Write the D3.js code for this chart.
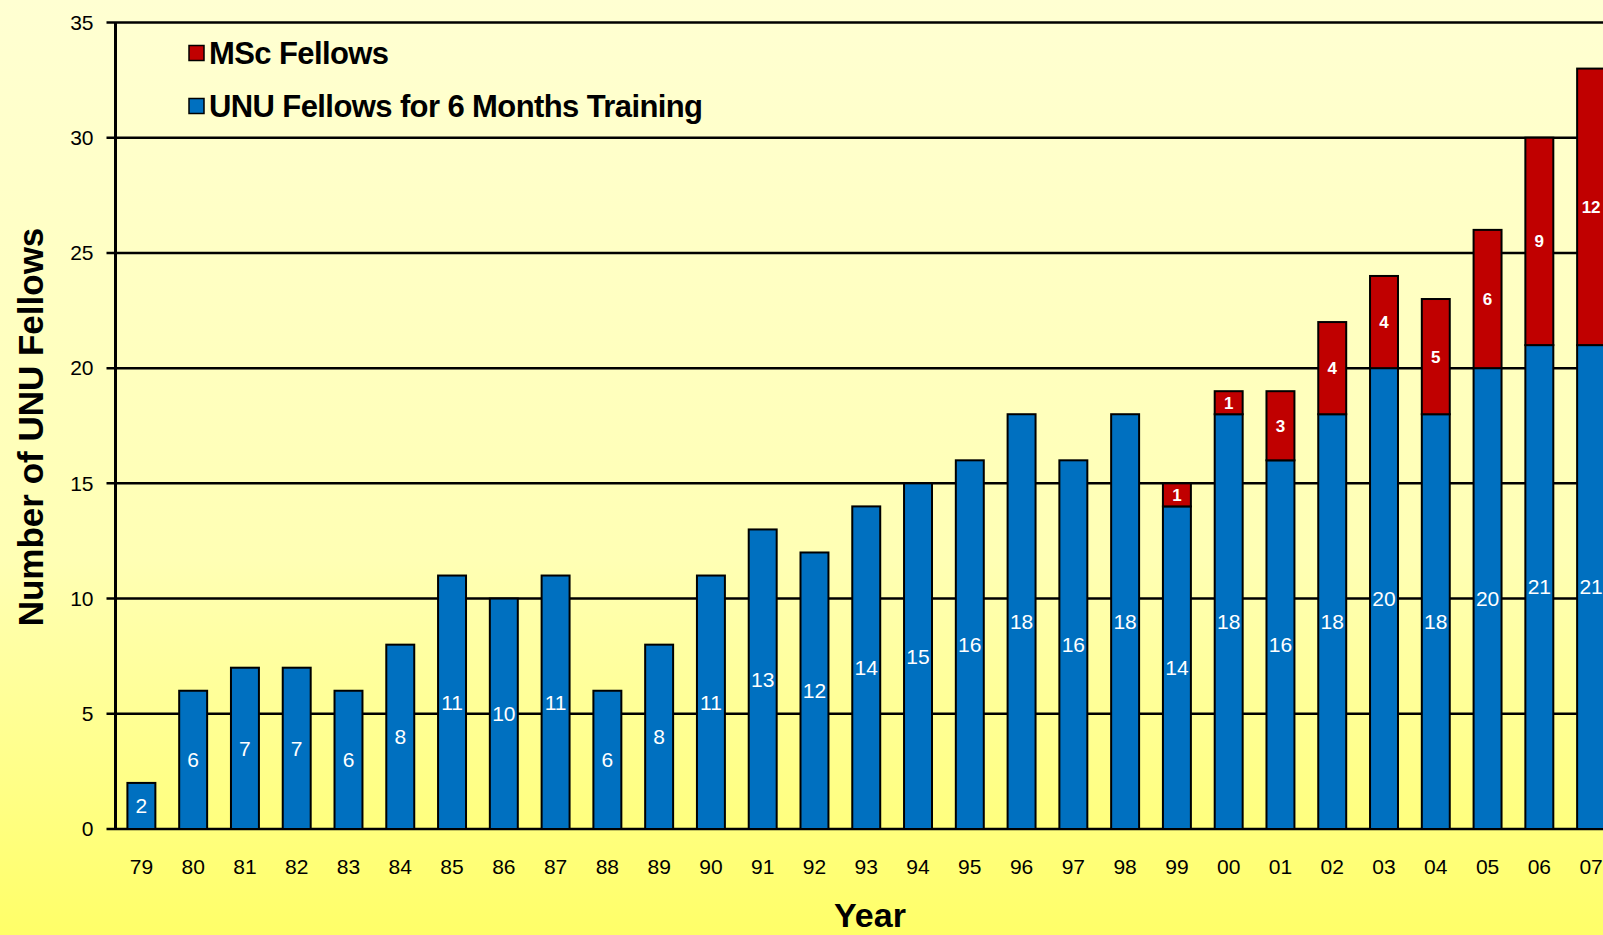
<!DOCTYPE html>
<html>
<head>
<meta charset="utf-8">
<script src="https://cdnjs.cloudflare.com/ajax/libs/d3/7.8.5/d3.min.js"></script>
<style>
  html, body { margin: 0; padding: 0; overflow: hidden; }
  svg { display: block; font-family: "Liberation Sans", Arial, sans-serif; }
</style>
</head>
<body>
<svg id="chart"></svg>
<script>
const width = 1603;
const height = 935;

const years = ["79", "80", "81", "82", "83", "84", "85", "86", "87", "88", "89", "90", "91", "92",
    "93", "94", "95", "96", "97", "98", "99", "00", "01", "02", "03", "04", "05", "06", "07"];
const unuFellows = [2, 6, 7, 7, 6, 8, 11, 10, 11, 6, 8, 11, 13, 12, 14, 15, 16, 18, 16, 18, 14, 18, 16, 18, 20, 18, 20, 21, 21];
const mscFellows = [0, 0, 0, 0, 0, 0, 0, 0, 0, 0, 0, 0, 0, 0, 0, 0, 0, 0, 0, 0, 1, 1, 3, 4, 4, 5, 6, 9, 12];
const yTicks = [0, 5, 10, 15, 20, 25, 30, 35];
const seriesNames = ["MSc Fellows", "UNU Fellows for 6 Months Training"];
const seriesColors = ["#c00000", "#0070c0"];

const margin = { top: 22.5, left: 115.5, bottom: 106 };
const plotRight = 1617;

const svg = d3.select("#chart")
    .attr("width", width)
    .attr("height", height);

// background gradient
const grad = svg.append("defs")
    .append("linearGradient")
    .attr("id", "bg")
    .attr("x1", 0).attr("y1", 0)
    .attr("x2", 0).attr("y2", 1);
grad.append("stop").attr("offset", "0%").attr("stop-color", "#ffffd2");
grad.append("stop").attr("offset", "60%").attr("stop-color", "#ffffb4");
grad.append("stop").attr("offset", "100%").attr("stop-color", "#ffff68");

svg.append("rect")
    .attr("width", width)
    .attr("height", height)
    .attr("fill", "url(#bg)");

const x = d3.scaleBand()
    .domain(years)
    .range([margin.left, plotRight])
    .paddingInner(0.46)
    .paddingOuter(0.23);

const y = d3.scaleLinear()
    .domain([0, 35])
    .range([height - margin.bottom, margin.top]);

// gridlines
svg.append("g")
    .selectAll("line")
    .data(yTicks)
    .join("line")
    .attr("x1", margin.left - 9)
    .attr("x2", width)
    .attr("y1", d => y(d))
    .attr("y2", d => y(d))
    .attr("stroke", "#000")
    .attr("stroke-width", 2.5);

// y axis line
svg.append("line")
    .attr("x1", margin.left)
    .attr("x2", margin.left)
    .attr("y1", y(35))
    .attr("y2", y(0))
    .attr("stroke", "#000")
    .attr("stroke-width", 3);

// y tick labels
svg.append("g")
    .selectAll("text")
    .data(yTicks)
    .join("text")
    .attr("x", margin.left - 22)
    .attr("y", d => y(d))
    .attr("dy", "0.35em")
    .attr("text-anchor", "end")
    .attr("font-size", 21)
    .attr("fill", "#000")
    .text(d => d);

// stacked bars
const rows = years.map((yr, i) => ({ year: yr, unu: unuFellows[i], msc: mscFellows[i] }));

const groups = svg.append("g")
    .selectAll("g")
    .data(rows)
    .join("g");

groups.append("rect")
    .attr("x", d => x(d.year))
    .attr("width", x.bandwidth())
    .attr("y", d => y(d.unu))
    .attr("height", d => y(0) - y(d.unu))
    .attr("fill", seriesColors[1])
    .attr("stroke", "#000")
    .attr("stroke-width", 2);

groups.filter(d => d.msc > 0)
    .append("rect")
    .attr("x", d => x(d.year))
    .attr("width", x.bandwidth())
    .attr("y", d => y(d.unu + d.msc))
    .attr("height", d => y(d.unu) - y(d.unu + d.msc))
    .attr("fill", seriesColors[0])
    .attr("stroke", "#000")
    .attr("stroke-width", 2);

// value labels
groups.append("text")
    .attr("x", d => x(d.year) + x.bandwidth() / 2)
    .attr("y", d => y(d.unu / 2))
    .attr("dy", "0.35em")
    .attr("text-anchor", "middle")
    .attr("font-size", 21)
    .attr("fill", "#fff")
    .text(d => d.unu);

groups.filter(d => d.msc > 0)
    .append("text")
    .attr("x", d => x(d.year) + x.bandwidth() / 2)
    .attr("y", d => y(d.unu + d.msc / 2))
    .attr("dy", "0.35em")
    .attr("text-anchor", "middle")
    .attr("font-size", 17)
    .attr("font-weight", "bold")
    .attr("fill", "#fff")
    .text(d => d.msc);

// x axis labels
svg.append("g")
    .selectAll("text")
    .data(years)
    .join("text")
    .attr("x", d => x(d) + x.bandwidth() / 2)
    .attr("y", 867)
    .attr("dy", "0.35em")
    .attr("text-anchor", "middle")
    .attr("font-size", 21)
    .attr("fill", "#000")
    .text(d => d);

// axis titles
svg.append("text")
    .attr("x", 870)
    .attr("y", 927)
    .attr("text-anchor", "middle")
    .attr("font-size", 34)
    .attr("font-weight", "bold")
    .text("Year");

svg.append("text")
    .attr("transform", "translate(43,427) rotate(-90)")
    .attr("text-anchor", "middle")
    .attr("font-size", 35)
    .attr("font-weight", "bold")
    .text("Number of UNU Fellows");

// legend
const legend = svg.append("g")
    .selectAll("g")
    .data(seriesNames)
    .join("g")
    .attr("transform", (d, i) => `translate(189,${53 + i * 53})`);

legend.append("rect")
    .attr("x", 0)
    .attr("y", -7.5)
    .attr("width", 15)
    .attr("height", 15)
    .attr("fill", (d, i) => seriesColors[i])
    .attr("stroke", "#000")
    .attr("stroke-width", 1.5);

legend.append("text")
    .attr("x", 20)
    .attr("y", 0)
    .attr("dy", "0.36em")
    .attr("font-size", 31)
    .attr("font-weight", "bold")
    .attr("letter-spacing", -0.6)
    .text(d => d);
</script>
</body>
</html>
